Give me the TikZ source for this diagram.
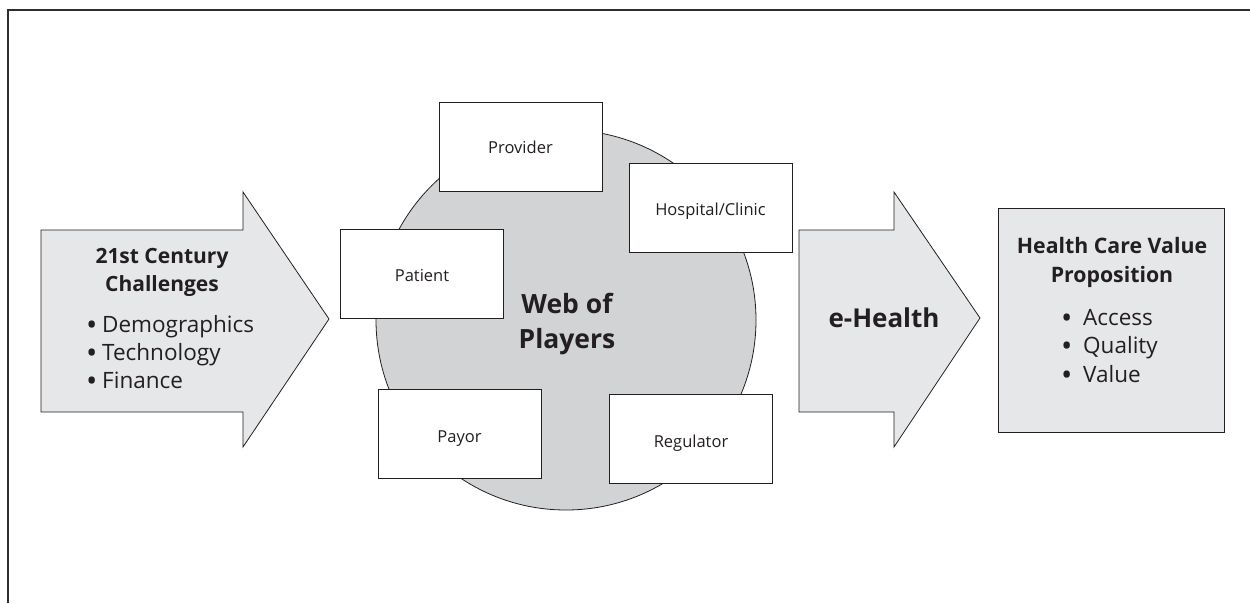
\documentclass[tikz,border=0pt]{standalone}
\usepackage{fontspec}
\setmainfont{Open Sans}
\definecolor{ink}{HTML}{231F20}
\definecolor{lightfill}{HTML}{E6E7E8}
\definecolor{webfill}{HTML}{D1D3D4}
\definecolor{framecol}{HTML}{2E2E2E}
\newcommand{\bigbul}{\smash{\raisebox{-3pt}{\fontsize{30}{28}\selectfont\textbullet}}}
\begin{document}
\begin{tikzpicture}[x=1pt,y=-1pt,
  outl/.style={draw=ink, line width=0.8pt},
  arrowshape/.style={outl, fill=lightfill},
  player/.style={outl, fill=white, minimum width=163pt, minimum height=89pt, inner sep=0pt},
  txt/.style={text=ink, inner sep=0pt, anchor=base},
  lbl/.style={txt, font=\fontsize{16.5}{18}\selectfont},
  bul/.style={txt, anchor=base west, font=\fontsize{22.5}{28}\selectfont},
  ttl/.style={txt, font=\fontsize{21}{28}\selectfont\bfseries},
]
\useasboundingbox (0,0) rectangle (1250,603);
\draw[line width=2pt, framecol] (8,603) -- (8,10) -- (1250,10);

% left arrow
\draw[arrowshape] (41,230) -- (243,230) -- (243,192) -- (329,319) -- (243,447) -- (243,412) -- (41,412) -- cycle;
\node[ttl] (c1) at (162,263) {21st Century};
\node[ttl] (c2) at (162,291) {Challenges};
\node[bul] (d1) at (86,332) {\makebox[16pt][l]{\bigbul}Demographics};
\node[bul] (d2) at (86,360) {\makebox[16pt][l]{\bigbul}Technology};
\node[bul] (d3) at (86,388) {\makebox[16pt][l]{\bigbul}Finance};

% web of players
\node[circle, outl, fill=webfill, minimum size=380pt, inner sep=0pt] (web) at (566,320) {};
\node[txt, font=\fontsize{26.5}{30}\selectfont\bfseries] (w1) at (567,313) {Web of};
\node[txt, font=\fontsize{26.5}{30}\selectfont\bfseries] (w2) at (567,348) {Players};

\node[player] (prov) at (520.5,146.5) {};
\node[lbl] (provt) at (520.5,153) {Provider};
\node[player] (hosp) at (710.5,208) {};
\node[lbl] (hospt) at (710.5,215) {Hospital/Clinic};
\node[player] (pat) at (422,274) {};
\node[lbl] (patt) at (422,281) {Patient};
\node[player] (pay) at (459.5,434) {};
\node[lbl] (payt) at (459.5,442) {Payor};
\node[player] (reg) at (691,439) {};
\node[lbl] (regt) at (691,447) {Regulator};

% e-health arrow
\draw[arrowshape] (799,230) -- (894,230) -- (894,192) -- (980,318) -- (894,447) -- (894,412) -- (799,412) -- cycle;
\node[txt, font=\fontsize{26}{30}\selectfont\bfseries] (eh) at (884,327) {e-Health};

% value proposition box
\node[outl, fill=lightfill, minimum width=226pt, minimum height=224pt, inner sep=0pt] (vp) at (1111,320) {};
\node[txt, font=\fontsize{21.3}{28}\selectfont\bfseries] (v1) at (1112,253) {Health Care Value};
\node[txt, font=\fontsize{21.3}{28}\selectfont\bfseries] (v2) at (1112,282) {Proposition};
\node[bul] (a1) at (1061,325) {\makebox[22pt][l]{\bigbul}Access};
\node[bul] (a2) at (1061,353) {\makebox[22pt][l]{\bigbul}Quality};
\node[bul] (a3) at (1061,382) {\makebox[22pt][l]{\bigbul}Value};
\end{tikzpicture}
\end{document}
